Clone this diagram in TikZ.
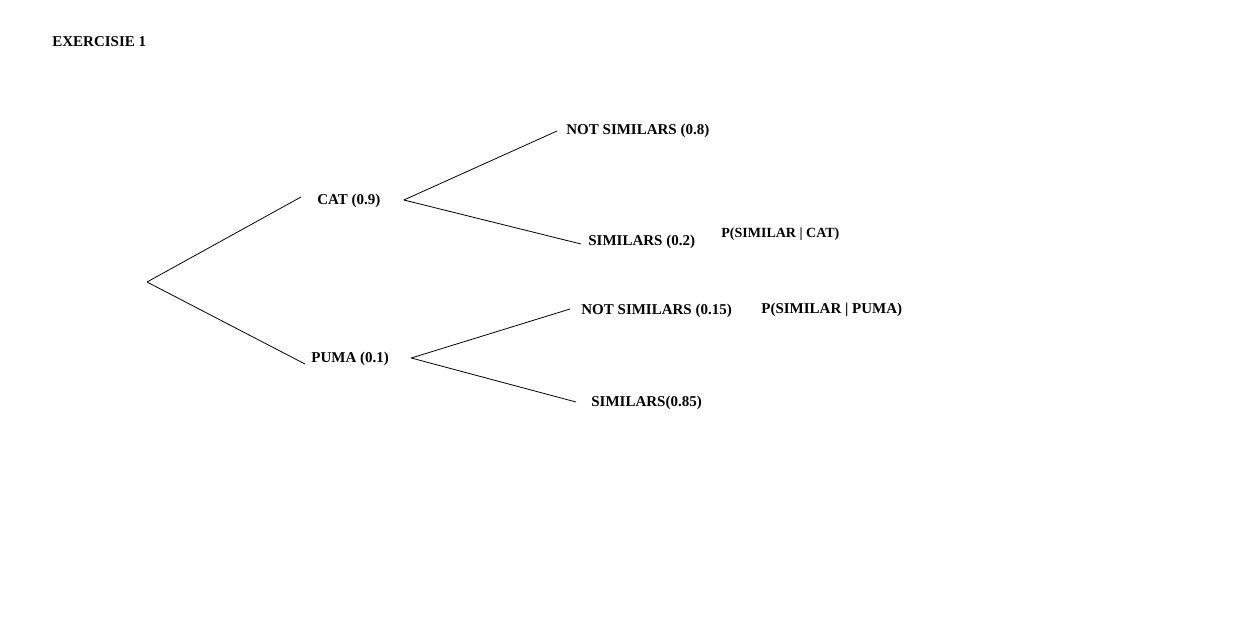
\documentclass[tikz,border=0pt]{standalone}
\usepackage{fontspec}
\setmainfont{Liberation Serif}
\usetikzlibrary{positioning}

\begin{document}
\begin{tikzpicture}[
    x = 1pt,
    y = -1pt,
    line width = 0.8pt,
    every node/.style = {inner sep = 0pt, anchor = west, font = \fontsize{15}{18}\selectfont\bfseries},
    label/.style = {},
    note/.style = {font = \fontsize{14}{17}\selectfont\bfseries}
  ]
    \useasboundingbox (0, 0) rectangle (1240, 627);
    \node[label] (title) at (52, 42) {EXERCISIE 1};
    \coordinate (root) at (147, 282);
    \node[label] (cat) at (317, 201) {CAT (0.9)};
    \node[label] (puma) at (311, 359) {PUMA (0.1)};
    \node[label] (cat_not_similar) at (566, 131) {NOT SIMILARS (0.8)};
    \node[label] (cat_similar) at (588, 242) {SIMILARS (0.2)};
    \node[note] (p_cat) at (721, 234) {P(SIMILAR | CAT)};
    \node[label] (puma_not_similar) at (581, 311) {NOT SIMILARS (0.15)};
    \node[label] (p_puma) at (761, 310) {P(SIMILAR | PUMA)};
    \node[label] (puma_similar) at (591, 403) {SIMILARS(0.85)};
    \draw (root) -- ([shift = {(-16, -4)}] cat.west);
    \draw (root) -- ([shift = {(-6, 5)}] puma.west);
    \draw ([shift = {(23, -1)}] cat.east) -- ([shift = {(-9, 0)}] cat_not_similar.west);
    \draw ([shift = {(23, -1)}] cat.east) -- ([shift = {(-7, 2)}] cat_similar.west);
    \draw ([shift = {(22, -1)}] puma.east) -- ([shift = {(-11, -2)}] puma_not_similar.west);
    \draw ([shift = {(22, -1)}] puma.east) -- ([shift = {(-15, -1)}] puma_similar.west);
  \end{tikzpicture}
\end{document}
